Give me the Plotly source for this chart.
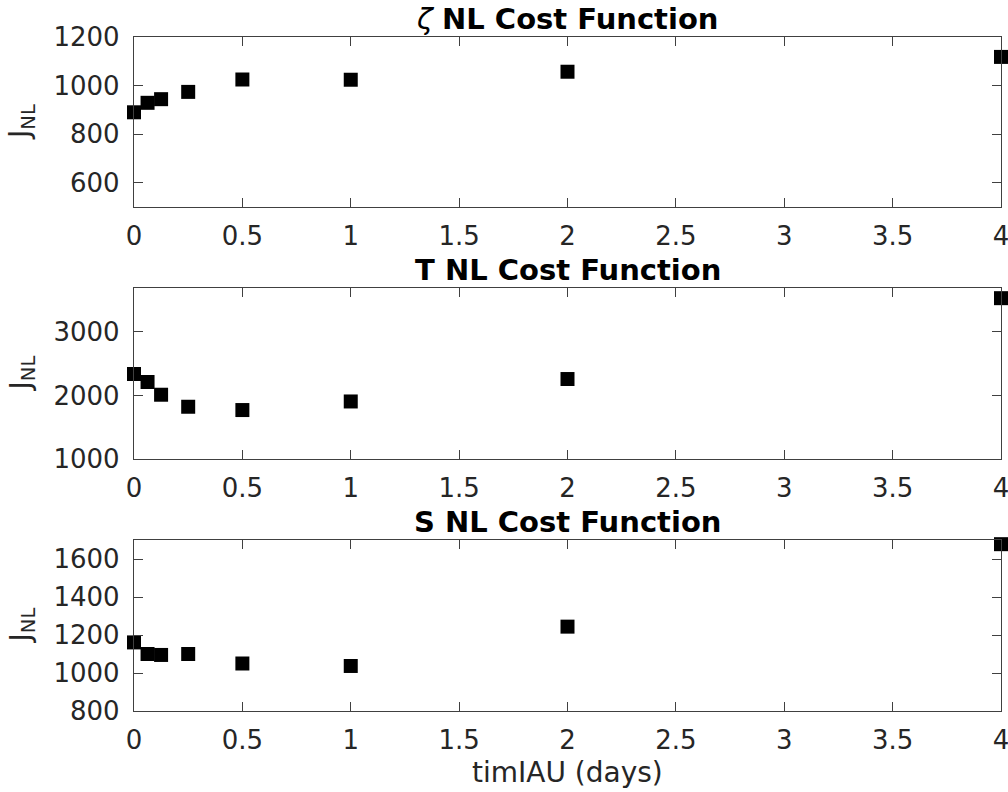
import plotly.graph_objects as go

W, H = 1008, 792

tim = [0, 0.0625, 0.125, 0.25, 0.5, 1, 2, 4]
zeta_cost = [890, 929, 944, 974, 1025, 1024, 1057, 1118]
T_cost = [2337, 2211, 2011, 1822, 1770, 1905, 2258, 3530]
S_cost = [1161, 1100, 1095, 1100, 1050, 1037, 1244, 1678]

titles = ["<i>ζ</i> <b>NL Cost Function</b>", "<b>T NL Cost Function</b>", "<b>S NL Cost Function</b>"]
y_ranges = [[500, 1200], [1000, 3690], [800, 1700]]
y_ticks = [[600, 800, 1000, 1200], [1000, 2000, 3000], [800, 1000, 1200, 1400, 1600]]
x_ticks = [0, 0.5, 1, 1.5, 2, 2.5, 3, 3.5, 4]
xlabel = "timIAU (days)"
ylabel = "J<sub>NL</sub>"

# pixel boxes of axes (top, bottom)
boxes = [(37, 207), (288, 459), (540, 711)]
xl, xr = 134, 1001

FONT = "DejaVu Sans"
TXT = "#262626"
AX = "#404040"

fig = go.Figure()
series = [zeta_cost, T_cost, S_cost]
for i, ys in enumerate(series):
    n = "" if i == 0 else str(i + 1)
    fig.add_trace(go.Scatter(
        x=tim, y=ys, mode="markers",
        marker=dict(symbol="square", size=14, color="black", line=dict(width=0)),
        cliponaxis=False, showlegend=False,
        xaxis="x" + n, yaxis="y" + n,
    ))
    top, bot = boxes[i]
    common = dict(showgrid=False, zeroline=False, showline=True, linecolor=AX, linewidth=1.3,
                  mirror="ticks", ticks="inside", ticklen=9, tickwidth=1.3, tickcolor=AX,
                  automargin=False, ticklabeloverflow="allow",
                  tickfont=dict(family=FONT, size=26, color=TXT))
    fig.update_layout(**{
        "xaxis" + n: dict(domain=[xl / W, xr / W], range=[0, 4], tickvals=x_ticks,
                          anchor="y" + n, ticklabelstandoff=6, **common),
        "yaxis" + n: dict(domain=[1 - bot / H, 1 - top / H], range=y_ranges[i],
                          tickvals=y_ticks[i], anchor="x" + n, ticklabelstandoff=8, **common),
    })
    fig.add_annotation(text=titles[i], xref="paper", yref="paper",
                       x=(xl + xr) / 2 / W, y=1 - (top - 18) / H, xanchor="center", yanchor="middle",
                       showarrow=False, font=dict(family=FONT, size=29, color="black"))
    fig.add_annotation(text=ylabel, xref="paper", yref="paper",
                       x=22 / W, y=1 - ((top + bot) / 2) / H, xanchor="center", yanchor="middle",
                       textangle=-90, showarrow=False, font=dict(family=FONT, size=28, color=TXT))

fig.add_annotation(text=xlabel, xref="paper", yref="paper",
                   x=(xl + xr) / 2 / W, y=1 - 772 / H, xanchor="center", yanchor="middle",
                   showarrow=False, font=dict(family=FONT, size=28, color=TXT))

fig.update_layout(width=W, height=H, margin=dict(l=0, r=0, t=0, b=0),
                  paper_bgcolor="white", plot_bgcolor="white")

fig.write_html("out.html")
